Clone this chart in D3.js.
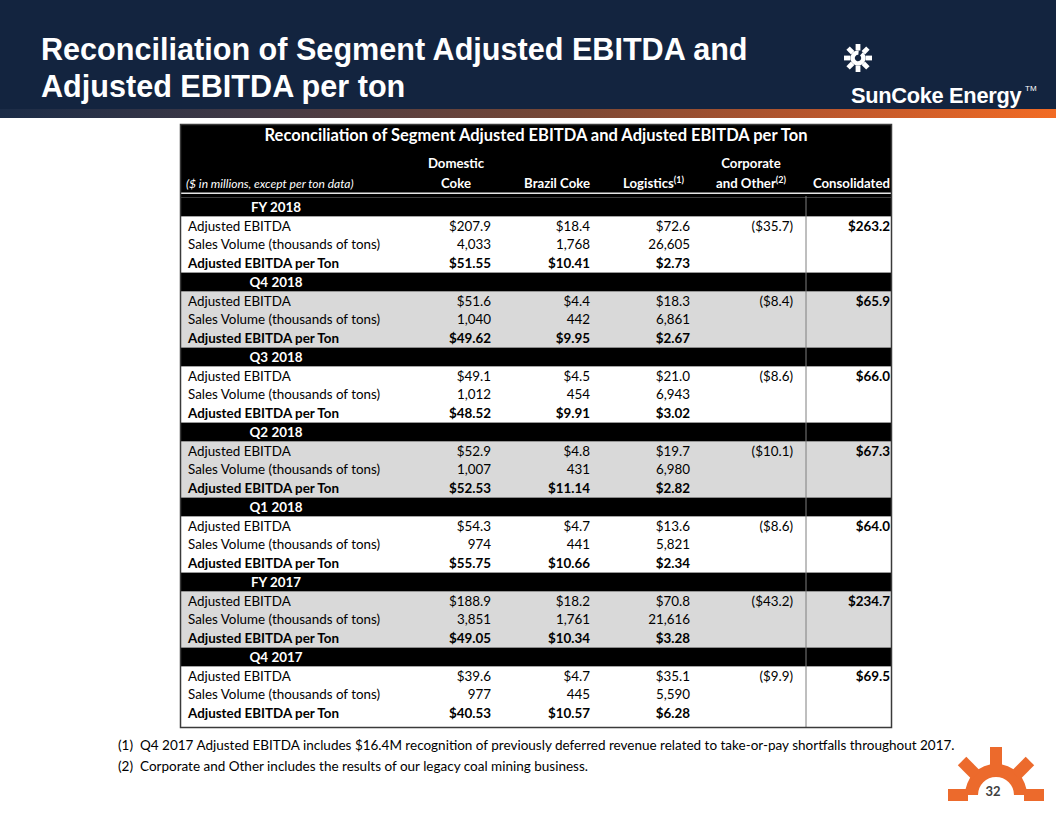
<!DOCTYPE html>
<html>
<head>
<meta charset="utf-8">
<script src="https://cdn.jsdelivr.net/npm/d3@7"></script>
<style>
  html, body { margin: 0; padding: 0; background: #ffffff; }
  svg { display: block; }
</style>
</head>
<body>
<script>
// ---------------- DATA ----------------
const sections = ["FY 2018", "Q4 2018", "Q3 2018", "Q2 2018", "Q1 2018", "FY 2017", "Q4 2017"];
const rowLabels = ["Adjusted EBITDA", "Sales Volume (thousands of tons)", "Adjusted EBITDA per Ton"];
const columns = ["Domestic Coke", "Brazil Coke", "Logistics", "Corporate and Other", "Consolidated"];

const domesticEbitda = [207.9, 51.6, 49.1, 52.9, 54.3, 188.9, 39.6];
const domesticVolume = [4033, 1040, 1012, 1007, 974, 3851, 977];
const domesticPerTon = [51.55, 49.62, 48.52, 52.53, 55.75, 49.05, 40.53];

const brazilEbitda = [18.4, 4.4, 4.5, 4.8, 4.7, 18.2, 4.7];
const brazilVolume = [1768, 442, 454, 431, 441, 1761, 445];
const brazilPerTon = [10.41, 9.95, 9.91, 11.14, 10.66, 10.34, 10.57];

const logisticsEbitda = [72.6, 18.3, 21.0, 19.7, 13.6, 70.8, 35.1];
const logisticsVolume = [26605, 6861, 6943, 6980, 5821, 21616, 5590];
const logisticsPerTon = [2.73, 2.67, 3.02, 2.82, 2.34, 3.28, 6.28];

const corporateEbitda = [-35.7, -8.4, -8.6, -10.1, -8.6, -43.2, -9.9];
const consolidatedEbitda = [263.2, 65.9, 66.0, 67.3, 64.0, 234.7, 69.5];

const footnotes = [
  ["(1)", "Q4 2017 Adjusted EBITDA includes $16.4M recognition of previously deferred revenue related to take-or-pay shortfalls throughout 2017."],
  ["(2)", "Corporate and Other includes the results of our legacy coal mining business."]
];

// ---------------- SETUP ----------------
const W = 1056, H = 816;
const NAVY = "#13243f", ORANGE = "#ec6a2c", GREY = "#d9d9d9";
const FONT = "Lato, 'Open Sans', sans-serif";

const svg = d3.select("body").append("svg").attr("width", W).attr("height", H)
  .style("font-family", FONT);

// header band
const defs = svg.append("defs");
const grad = defs.append("linearGradient").attr("id", "strip").attr("x1", "0%").attr("x2", "100%");
[["0%", "#1b2c47"], ["25%", "#443a45"], ["55%", "#7c4834"], ["80%", "#c0582c"], ["100%", "#f26b24"]]
  .forEach(([o, c]) => grad.append("stop").attr("offset", o).attr("stop-color", c));

svg.append("rect").attr("x", 0).attr("y", 0).attr("width", W).attr("height", 110).attr("fill", NAVY);
svg.append("rect").attr("x", 0).attr("y", 109).attr("width", W).attr("height", 9).attr("fill", "url(#strip)");

const title = svg.append("text").attr("fill", "#fff")
  .style("font-family", "'Liberation Sans', Arial, sans-serif").style("font-weight", "bold").style("font-size", "30.6px");
title.append("tspan").attr("x", 41).attr("y", 60).text("Reconciliation of Segment Adjusted EBITDA and");
title.append("tspan").attr("x", 41).attr("y", 97).text("Adjusted EBITDA per ton");

// SunCoke logo (white sun)
const sun = svg.append("g").attr("transform", "translate(858,58)");
d3.range(8).forEach(i => {
  sun.append("rect").attr("x", -2.4).attr("y", -14).attr("width", 4.8).attr("height", 6.5)
    .attr("fill", "#fff").attr("transform", `rotate(${i * 45})`);
});
sun.append("path")
  .attr("d", d3.arc().innerRadius(3.2).outerRadius(7.5).startAngle(0.7).endAngle(2 * Math.PI + 0.1)())
  .attr("fill", "#fff");
svg.append("text").attr("x", 851).attr("y", 103).attr("fill", "#fff")
  .style("font-family", "'Liberation Sans', Arial, sans-serif").style("font-size", "21.8px").style("font-weight", "bold")
  .style("letter-spacing", "-0.3px")
  .text("SunCoke Energy");
svg.append("text").attr("x", 1025).attr("y", 91).attr("fill", "#fff")
  .style("font-family", "'Liberation Sans', Arial, sans-serif").style("font-size", "8px").text("TM");

// ---------------- TABLE ----------------
const tX0 = 180, tX1 = 892, tY0 = 124, tY1 = 728;
const nRows = sections.length * 4;
const y = d3.scaleBand().domain(d3.range(nRows)).range([197.6, 722.6]);
const xRight = d3.scaleOrdinal().domain(columns).range([491, 590, 690, 793, 890]);
const divX = 806;

const table = svg.append("g");

// section backgrounds
sections.forEach((s, k) => {
  table.append("rect").attr("x", tX0).attr("width", tX1 - tX0)
    .attr("y", y(4 * k + 1)).attr("height", k === sections.length - 1 ? tY1 - y(4 * k + 1) : y.bandwidth() * 3)
    .attr("fill", k % 2 === 1 ? GREY : "#fff");
  table.append("rect").attr("x", tX0).attr("width", tX1 - tX0)
    .attr("y", y(4 * k)).attr("height", y.bandwidth()).attr("fill", "#000");
});

// header block
table.append("rect").attr("x", tX0).attr("y", tY0).attr("width", tX1 - tX0).attr("height", 197.6 - tY0).attr("fill", "#000");
table.append("line").attr("x1", tX0).attr("x2", tX1).attr("y1", 193.3).attr("y2", 193.3)
  .attr("stroke", "#e6e6e6").attr("stroke-width", 1.6);

// divider before Consolidated
table.append("line").attr("x1", divX).attr("x2", divX).attr("y1", 196).attr("y2", tY1)
  .attr("stroke", "#7f7f7f").attr("stroke-width", 1);

// outer border
table.append("rect").attr("x", tX0 + 0.5).attr("y", tY0 + 0.5).attr("width", tX1 - tX0 - 1).attr("height", tY1 - tY0 - 1)
  .attr("fill", "none").attr("stroke", "#3a3a3a").attr("stroke-width", 1.5);

// header texts
const hdr = table.append("g").attr("fill", "#fff").style("font-weight", "bold").style("font-size", "13.2px");
hdr.append("text").attr("x", 536).attr("y", 141).attr("text-anchor", "middle").style("font-size", "16.5px")
  .text("Reconciliation of Segment Adjusted EBITDA and Adjusted EBITDA per Ton");
hdr.append("text").attr("x", 186).attr("y", 188).style("font-weight", "normal").style("font-style", "italic")
  .style("font-size", "12px").text("($ in millions, except per ton data)");
hdr.append("text").attr("x", 456).attr("y", 168).attr("text-anchor", "middle").text("Domestic");
hdr.append("text").attr("x", 456).attr("y", 188).attr("text-anchor", "middle").text("Coke");
hdr.append("text").attr("x", xRight("Brazil Coke")).attr("y", 188).attr("text-anchor", "end").text("Brazil Coke");
const lg = hdr.append("text").attr("x", 684).attr("y", 188).attr("text-anchor", "end");
lg.append("tspan").text("Logistics");
lg.append("tspan").attr("dy", -5).style("font-size", "9px").text("(1)");
hdr.append("text").attr("x", 751).attr("y", 168).attr("text-anchor", "middle").text("Corporate");
const co = hdr.append("text").attr("x", 751).attr("y", 188).attr("text-anchor", "middle");
co.append("tspan").text("and Other");
co.append("tspan").attr("dy", -5).style("font-size", "9px").text("(2)");
hdr.append("text").attr("x", xRight("Consolidated")).attr("y", 188).attr("text-anchor", "end").text("Consolidated");

// formatting
const money1 = v => v < 0 ? `($${d3.format(".1f")(-v)})` : `$${d3.format(".1f")(v)}`;
const money2 = v => `$${d3.format(".2f")(v)}`;
const vol = d3.format(",");

const body = table.append("g").style("font-size", "13.4px");
sections.forEach((s, k) => {
  const r0 = 4 * k;
  body.append("text").attr("x", 276).attr("y", y(r0) + y.bandwidth() / 2).attr("dy", "0.36em")
    .attr("text-anchor", "middle").attr("fill", "#fff").style("font-weight", "bold").text(s);

  const rowsData = [
    { label: rowLabels[0], bold: false, vals: [money1(domesticEbitda[k]), money1(brazilEbitda[k]), money1(logisticsEbitda[k]), money1(corporateEbitda[k]), money1(consolidatedEbitda[k])] },
    { label: rowLabels[1], bold: false, vals: [vol(domesticVolume[k]), vol(brazilVolume[k]), vol(logisticsVolume[k]), "", ""] },
    { label: rowLabels[2], bold: true, vals: [money2(domesticPerTon[k]), money2(brazilPerTon[k]), money2(logisticsPerTon[k]), "", ""] }
  ];
  rowsData.forEach((row, j) => {
    const cy = y(r0 + 1 + j) + y.bandwidth() / 2;
    body.append("text").attr("x", 188).attr("y", cy).attr("dy", "0.36em").attr("fill", "#000")
      .style("font-weight", row.bold ? "bold" : "normal").text(row.label);
    row.vals.forEach((v, c) => {
      if (!v) return;
      body.append("text").attr("x", xRight(columns[c])).attr("y", cy).attr("dy", "0.36em")
        .attr("text-anchor", "end").attr("fill", "#000")
        .style("font-weight", (row.bold || c === 4) ? "bold" : "normal").text(v);
    });
  });
});

// footnotes
const fn = svg.append("g").style("font-size", "13.5px").attr("fill", "#000");
footnotes.forEach((f, i) => {
  fn.append("text").attr("x", 118).attr("y", 750 + i * 20.5).text(f[0]);
  fn.append("text").attr("x", 140).attr("y", 750 + i * 20.5).text(f[1]);
});

// orange page-number sun
const ps = svg.append("g").attr("transform", "translate(996,795)");
ps.append("path").attr("d", d3.arc().innerRadius(18).outerRadius(31).startAngle(-Math.PI / 2).endAngle(Math.PI / 2)())
  .attr("fill", ORANGE);
[-90, -45, 0, 45, 90].forEach(a => {
  ps.append("rect").attr("x", -6).attr("y", -48).attr("width", 12).attr("height", 20)
    .attr("fill", ORANGE).attr("transform", `rotate(${a})`);
});
ps.append("text").attr("x", -3).attr("y", 1).attr("text-anchor", "middle")
  .style("font-size", "13px").style("font-weight", "bold").attr("fill", "#404040").text("32");
</script>
</body>
</html>
